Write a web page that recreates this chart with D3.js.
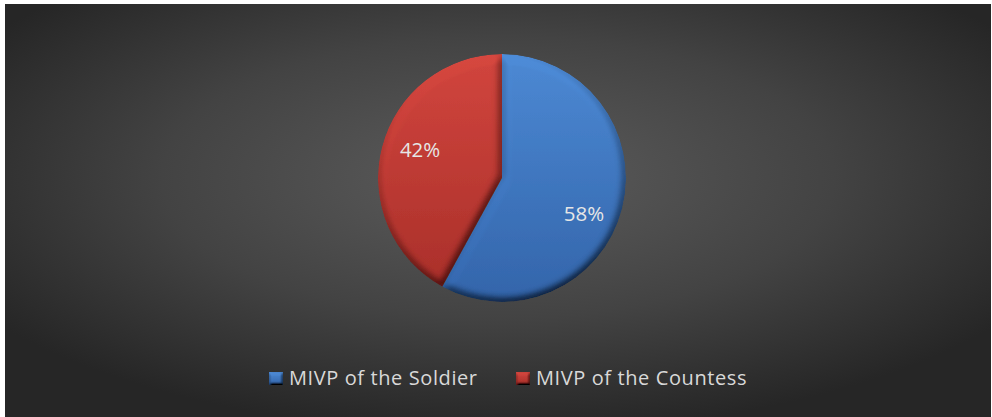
<!DOCTYPE html>
<html>
<head>
<meta charset="utf-8">
<script src="https://cdn.jsdelivr.net/npm/d3@7"></script>
<style>
  html, body { margin: 0; padding: 0; background: #ffffff; }
  svg { display: block; }
</style>
</head>
<body>
<svg id="chart" width="992" height="417"></svg>
<script>
// Share of MIVP by character
const categories = ["MIVP of the Soldier", "MIVP of the Countess"];
const shares = [58, 42];
const sliceTop = ["#4e8cd8", "#d6473f"];
const sliceBottom = ["#3467ae", "#ab2f2a"];

const W = 992, H = 417;
const svg = d3.select("#chart");
const defs = svg.append("defs");

// Dark radial backdrop
const bg = defs.append("radialGradient").attr("id", "bgGrad")
  .attr("cx", "50%").attr("cy", "42%").attr("r", "62%");
bg.append("stop").attr("offset", "0%").attr("stop-color", "#5c5c5c");
bg.append("stop").attr("offset", "55%").attr("stop-color", "#434343");
bg.append("stop").attr("offset", "100%").attr("stop-color", "#262626");

svg.append("rect")
  .attr("x", 5).attr("y", 4).attr("width", W - 6).attr("height", H - 4)
  .attr("fill", "url(#bgGrad)");

// Per-slice vertical gradients
categories.forEach((c, i) => {
  const g = defs.append("linearGradient").attr("id", "sg" + i)
    .attr("gradientUnits", "userSpaceOnUse")
    .attr("x1", 0).attr("y1", -124).attr("x2", 0).attr("y2", 124);
  g.append("stop").attr("offset", "0%").attr("stop-color", sliceTop[i]);
  g.append("stop").attr("offset", "100%").attr("stop-color", sliceBottom[i]);
  const lg = defs.append("linearGradient").attr("id", "lg" + i)
    .attr("x1", 0).attr("y1", 0).attr("x2", 0).attr("y2", 1);
  lg.append("stop").attr("offset", "0%").attr("stop-color", sliceTop[i]);
  lg.append("stop").attr("offset", "100%").attr("stop-color", sliceBottom[i]);
});

// Soft bevel via diffuse lighting on the blurred alpha
function bevel(id, blur, scale) {
  const f = defs.append("filter").attr("id", id)
    .attr("x", "-10%").attr("y", "-10%").attr("width", "120%").attr("height", "120%");
  f.append("feGaussianBlur").attr("in", "SourceAlpha").attr("stdDeviation", blur).attr("result", "b");
  const lit = f.append("feDiffuseLighting").attr("in", "b").attr("surfaceScale", scale)
    .attr("diffuseConstant", 1.1).attr("lighting-color", "#ffffff").attr("result", "l");
  lit.append("feDistantLight").attr("azimuth", 250).attr("elevation", 60);
  f.append("feComposite").attr("in", "SourceGraphic").attr("in2", "l")
    .attr("operator", "arithmetic").attr("k1", 1).attr("k2", 0).attr("k3", 0).attr("k4", 0)
    .attr("result", "m");
  f.append("feComposite").attr("in", "m").attr("in2", "SourceAlpha").attr("operator", "in");
}
bevel("bevelPie", 4, 7);
bevel("bevelKey", 1.5, 4);

const cx = 502, cy = 178, R = 124;
const pie = d3.pie().sort(null).value(d => d);
const arcs = pie(shares);
const arc = d3.arc().innerRadius(0).outerRadius(R);

const g = svg.append("g").attr("transform", `translate(${cx},${cy})`);

g.selectAll("path.slice").data(arcs).enter().append("path")
  .attr("class", "slice")
  .attr("d", arc)
  .attr("fill", (d, i) => `url(#sg${i})`)
  .attr("filter", "url(#bevelPie)");

// Percentage labels, nudged clockwise the way the spreadsheet places them
const labelArc = d3.arc().innerRadius(88).outerRadius(88);
const total = d3.sum(shares);
g.selectAll("text.pct").data(arcs).enter().append("text")
  .attr("class", "pct")
  .attr("transform", d => {
    const shift = 7 * Math.PI / 180;
    const c = labelArc.centroid({startAngle: d.startAngle + shift, endAngle: d.endAngle + shift});
    return `translate(${c[0]},${c[1] + 3})`;
  })
  .attr("text-anchor", "middle")
  .attr("dominant-baseline", "central")
  .attr("font-family", "'Open Sans', 'Noto Sans', sans-serif")
  .attr("font-size", 20.5)
  .attr("fill", "#e6e6e6")
  .text(d => Math.round(d.data / total * 100) + "%");

// Legend
const legend = svg.append("g").attr("font-family", "'Open Sans', 'Noto Sans', sans-serif")
  .attr("font-size", 20).attr("letter-spacing", 0.6).attr("fill", "#d9d9d9");
const keyX = [269, 516];
const items = legend.selectAll("g").data(categories).enter().append("g")
  .attr("transform", (d, i) => `translate(${keyX[i]},372)`);
items.append("rect").attr("width", 14).attr("height", 13)
  .attr("fill", (d, i) => `url(#lg${i})`)
  .attr("filter", "url(#bevelKey)");
items.append("text").attr("x", 20).attr("y", 13).text(d => d);
</script>
</body>
</html>
